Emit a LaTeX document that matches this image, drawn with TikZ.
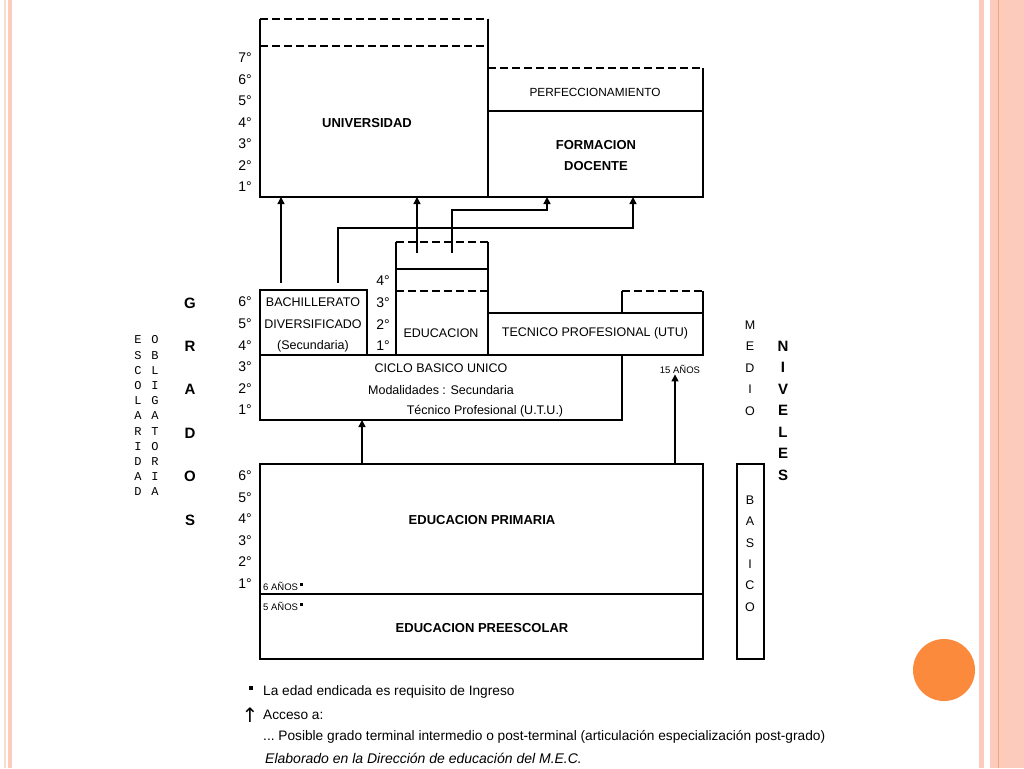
\documentclass[tikz,border=0pt]{standalone}
\usepackage{fontspec}
\setmainfont{Liberation Sans}
\newfontfamily\monofont{Liberation Mono}
\newfontfamily\symbfont{DejaVu Sans}
\usetikzlibrary{positioning,arrows.meta}
\definecolor{stripe}{HTML}{FCCBBB}
\definecolor{stripeline}{HTML}{F2A07E}
\definecolor{stripepale}{HTML}{FBDDD0}
\definecolor{dotorange}{HTML}{FB8A3C}

\begin{document}
\begin{tikzpicture}[x=1pt,y=-1pt,
						% Define styles for boxes, lines and texts
						box style/.style={draw, line width=1.5pt, inner sep=0pt, outer sep=0pt, anchor=north west},
						open style/.style={inner sep=0pt, outer sep=0pt, anchor=north west},
						dashed line/.style={line width=1.5pt, dash pattern=on 8pt off 4pt},
						edge style/.style={line width=1.5pt},
						arrow style/.style={line width=1.4pt, -{Triangle[length=7pt,width=7pt]}},
						grade style/.style={inner sep=1pt, font=\fontsize{14}{16}\selectfont},
						label style/.style={inner sep=1pt, font=\fontsize{12.5}{14}\selectfont},
						legend style/.style={inner sep=1pt, anchor=west, font=\fontsize{13.7}{16}\selectfont},
						title style/.style={inner sep=1pt, font=\fontsize{13}{15}\selectfont\bfseries},
						small style/.style={inner sep=1pt, font=\fontsize{9.5}{11}\selectfont},
						letter style/.style={inner sep=0pt, font=\fontsize{15}{17}\selectfont\bfseries},
						mono style/.style={inner sep=0pt, font=\fontsize{12}{13}\monofont}
						]
						\useasboundingbox (0,0) rectangle (1024,768);
						\fill[white] (0,0) rectangle (1024,768);
						
						% Page border
						\fill[stripepale] (4,0) rectangle (5.5,768);
						\fill[stripe] (7.5,0) rectangle (12,768);
						\fill[stripe] (979,0) rectangle (983.5,768);
						\fill[stripe] (990,0) rectangle (1024,768);
						\fill[stripeline] (997.5,0) rectangle (999,768);
						\fill[dotorange] (944,670) circle (31pt);
						
						% Define and place the boxes
						\node[open style, minimum width=228pt, minimum height=178pt] (univ) at (260,19) {};
						\node[open style, minimum width=215pt, minimum height=43pt] (perf) at (488,68) {};
						\node[box style, minimum width=215pt, minimum height=86pt] (form) at (488,111) {};
						\node[box style, minimum width=107pt, minimum height=65pt] (bach) at (260,290) {};
						\node[open style, minimum width=92pt, minimum height=113pt] (educ) at (396,242) {};
						\node[box style, minimum width=215pt, minimum height=42pt] (tec) at (488,313) {};
						\node[open style, minimum width=81pt, minimum height=22pt] (tec top) at (622,291) {};
						\node[box style, minimum width=362pt, minimum height=65pt] (ciclo) at (260,355) {};
						\node[box style, minimum width=443pt, minimum height=130pt] (prim) at (260,464) {};
						\node[box style, minimum width=443pt, minimum height=65pt] (presc) at (260,594) {};
						\node[box style, minimum width=27pt, minimum height=195pt] (basico) at (737,464) {};
						
						% --- Draw the open edges ---
						\draw[edge style] (univ.north west) -- (univ.south west) -- (univ.south east) -- (univ.north east);
						\draw[dashed line] (univ.north west) -- (univ.north east);
						\draw[dashed line] ([yshift=-27pt]univ.north west) -- ([yshift=-27pt]univ.north east);
						\draw[edge style] (perf.north west) -- (perf.south west) -- (perf.south east) -- (perf.north east);
						\draw[dashed line] (perf.north west) -- (perf.north east);
						\draw[edge style] (educ.north west) -- (educ.south west) (educ.south east) -- (educ.north east);
						\draw[dashed line] (educ.north west) -- (educ.north east);
						\draw[edge style] ([yshift=-27pt]educ.north west) -- ([yshift=-27pt]educ.north east);
						\draw[dashed line] ([yshift=-49pt]educ.north west) -- ([yshift=-49pt]educ.north east);
						\draw[edge style] (tec top.south west) -- (tec top.north west) (tec top.north east) -- (tec top.south east);
						\draw[dashed line] (tec top.north west) -- (tec top.north east);
						
						% Box texts
						\node[title style] (univ text) at (367,123) {UNIVERSIDAD};
						\node[inner sep=1pt, font=\fontsize{11.8}{13}\selectfont] (perf text) at (595,92) {PERFECCIONAMIENTO};
						\node[title style] (form text) at (596,145) {FORMACION};
						\node[title style] (docente text) at (596,166) {DOCENTE};
						\node[label style] (bach text) at (313,302) {BACHILLERATO};
						\node[label style] (div text) at (313,324) {DIVERSIFICADO};
						\node[label style] (sec text) at (313,346) {(Secundaria)};
						\node[label style] (educ text) at (441,333) {EDUCACION};
						\node[label style] (tec text) at (595,333) {TECNICO PROFESIONAL (UTU)};
						\node[label style] (ciclo text) at (441,368) {CICLO BASICO UNICO};
						\node[label style] (mod text) at (441,390) {Modalidades : Secundaria};
						\node[label style] (utu text) at (485,411) {Técnico Profesional (U.T.U.)};
						\node[small style] (anos15) at (680,369) {15 AÑOS};
						\node[title style] (prim text) at (482,520) {EDUCACION PRIMARIA};
						\node[title style] (presc text) at (482,628) {EDUCACION PREESCOLAR};
						\node[small style, anchor=west] (anos6) at (262,586) {6 AÑOS\,\raisebox{4pt}{\rule{3pt}{3pt}}};
						\node[small style, anchor=west] (anos5) at (262,606) {5 AÑOS\,\raisebox{4pt}{\rule{3pt}{3pt}}};
						
						% Grades
						\foreach \g [count=\i from 0] in {7,6,5,4,3,2,1}
							\node[grade style] (top grade \g) at (245,58+21.5*\i) {\g°};
						\foreach \g [count=\i from 0] in {6,5,4,3,2,1}
							\node[grade style] (mid grade \g) at (245,302+21.6*\i) {\g°};
						\foreach \g [count=\i from 0] in {4,3,2,1}
							\node[grade style] (educ grade \g) at (383,281+21.6*\i) {\g°};
						\foreach \g [count=\i from 0] in {6,5,4,3,2,1}
							\node[grade style] (low grade \g) at (245,476+21.5*\i) {\g°};
						
						% Vertical words
						\foreach \l [count=\i from 0] in {G,R,A,D,O,S}
							\node[letter style] (grados \i) at (190,303+43.4*\i) {\l};
						\foreach \l [count=\i from 0] in {N,I,V,E,L,E,S}
							\node[letter style] (niveles \i) at (783,346+21.5*\i) {\l};
						\foreach \l [count=\i from 0] in {M,E,D,I,O}
							\node[label style] (medio \i) at (750,325+21.5*\i) {\l};
						\foreach \l [count=\i from 0] in {B,A,S,I,C,O}
							\node[label style] (basico \i) at (750,500+21.4*\i) {\l};
						\foreach \l [count=\i from 0] in {E,S,C,O,L,A,R,I,D,A,D}
							\node[mono style] (esc \i) at (138,340+15.2*\i) {\l};
						\foreach \l [count=\i from 0] in {O,B,L,I,G,A,T,O,R,I,A}
							\node[mono style] (obl \i) at (155,340+15.2*\i) {\l};
						
						% --- Draw the arrows ---
						\coordinate (bach out) at (281,283);
						\draw[arrow style] (bach out) -- (bach out |- univ.south);
						\coordinate (bach up) at (338,283);
						\coordinate (bach turn) at (633,228);
						\draw[arrow style] (bach up) |- (bach turn) -- (bach turn |- form.south);
						\coordinate (educ out) at (417,253);
						\draw[arrow style] (educ out) -- (educ out |- univ.south);
						\coordinate (educ up) at (452,253);
						\coordinate (educ turn) at (547,210);
						\draw[arrow style] (educ up) |- (educ turn) -- (educ turn |- form.south);
						\coordinate (prim left) at (362,464);
						\draw[arrow style] (prim left) -- (prim left |- ciclo.south);
						\coordinate (prim right) at (675,464);
						\draw[arrow style] (prim right) -- (prim right |- anos15.south);
						
						% Legend
						\node[inner sep=0pt, minimum size=3.5pt, fill] (bullet) at (251,688) {};
						\node[legend style] (legend age) at (262,692) {La edad endicada es requisito de Ingreso};
						\node[inner sep=0pt, font=\symbfont\fontsize{20}{22}\selectfont] (legend arrow) at (250,715) {↑};
						\node[legend style] (legend access) at (262,715) {Acceso a:};
						\node[legend style] (legend grade) at (262,737) {...\ Posible grado terminal intermedio o post-terminal (articulación especialización post-grado)};
						\node[legend style, font=\fontsize{14}{16}\selectfont\itshape] (legend source) at (264,758) {Elaborado en la Dirección de educación del M.E.C.};
					\end{tikzpicture}
\end{document}
